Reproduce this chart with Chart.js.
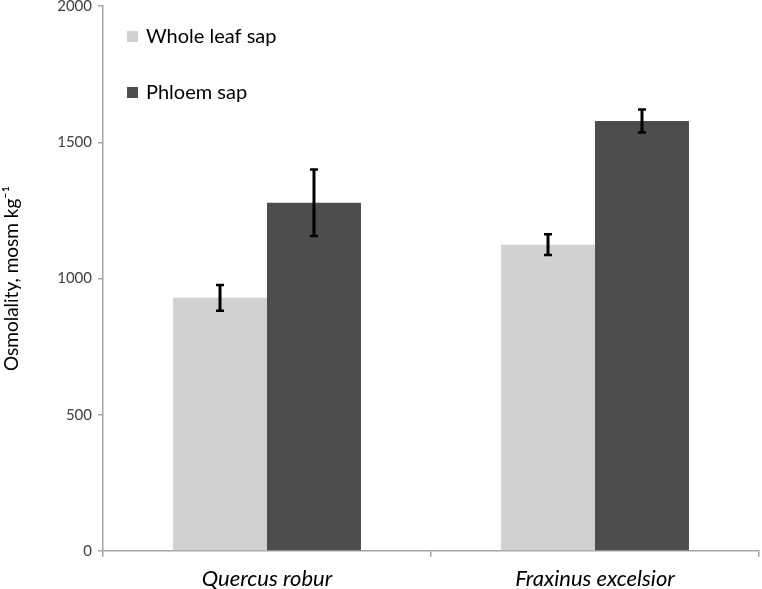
<!DOCTYPE html>
<html>
<head>
<meta charset="utf-8">
<script src="https://cdn.jsdelivr.net/npm/chart.js@4"></script>
<style>
  html, body { margin: 0; padding: 0; background: #fff; }
  #wrap { width: 762px; height: 589px; }
</style>
</head>
<body>
<div id="wrap"><canvas id="osmoChart" width="762" height="589"></canvas></div>
<script>
// species on the x axis
const species = ["Quercus robur", "Fraxinus excelsior"];

// osmolality, mosm kg-1
const wholeLeaf = [929, 1124];
const phloem = [1278, 1578];

// error bar half-heights
const wholeLeafErr = [47, 38];
const phloemErr = [122, 42];

const yTicks = [0, 500, 1000, 1500, 2000];

const FONT = "Lato, 'Open Sans', sans-serif";

// draws the error bars on top of every bar
const errorBars = {
    id: "errorBars",
    afterDatasetsDraw(chart) {
        const ctx = chart.ctx;
        const yScale = chart.scales.y;
        chart.data.datasets.forEach((ds, i) => {
            const meta = chart.getDatasetMeta(i);
            meta.data.forEach((bar, j) => {
                const v = ds.data[j];
                const e = ds.errors[j];
                const top = yScale.getPixelForValue(v + e);
                const bot = yScale.getPixelForValue(v - e);
                ctx.save();
                ctx.strokeStyle = "#000";
                ctx.lineWidth = 3;
                ctx.beginPath();
                ctx.moveTo(bar.x, top);
                ctx.lineTo(bar.x, bot);
                ctx.stroke();
                ctx.lineWidth = 2.5;
                ctx.beginPath();
                ctx.moveTo(bar.x - 4, top);
                ctx.lineTo(bar.x + 4, top);
                ctx.moveTo(bar.x - 4, bot);
                ctx.lineTo(bar.x + 4, bot);
                ctx.stroke();
                ctx.restore();
            });
        });
    }
};

// legend stacked inside the plot, top left
const innerLegend = {
    id: "innerLegend",
    afterDraw(chart) {
        const ctx = chart.ctx;
        const area = chart.chartArea;
        chart.data.datasets.forEach((ds, i) => {
            const x = area.left + 24;
            const y = area.top + 25 + i * 56;
            ctx.save();
            ctx.fillStyle = ds.backgroundColor;
            ctx.fillRect(x, y, 11, 11);
            ctx.fillStyle = "#000";
            ctx.font = "20px " + FONT;
            ctx.textBaseline = "middle";
            ctx.fillText(ds.label, x + 19, y + 6);
            ctx.restore();
        });
    }
};

new Chart(document.getElementById("osmoChart"), {
    type: "bar",
    data: {
        labels: species,
        datasets: [
            {
                label: "Whole leaf sap",
                data: wholeLeaf,
                errors: wholeLeafErr,
                backgroundColor: "#D0D1D3"
            },
            {
                label: "Phloem sap",
                data: phloem,
                errors: phloemErr,
                backgroundColor: "#4D4D4F"
            }
        ]
    },
    options: {
        responsive: false,
        animation: false,
        categoryPercentage: 0.573,
        barPercentage: 1,
        layout: { padding: { top: 6, right: 3, left: 0, bottom: 0 } },
        plugins: {
            legend: { display: false },
            tooltip: { enabled: false }
        },
        scales: {
            x: {
                grid: {
                    offset: true,
                    drawOnChartArea: false,
                    drawTicks: true,
                    tickLength: 6,
                    color: "#A6A6A6",
                    lineWidth: 1.5
                },
                border: { color: "#A6A6A6", width: 1.5 },
                ticks: {
                    color: "#000",
                    padding: 9,
                    font: { family: FONT, size: 22, style: "italic" }
                },
                afterFit(scale) {
                    scale.height = 38;
                    scale.paddingLeft = 0;
                    scale.paddingRight = 0;
                }
            },
            y: {
                min: 0,
                max: 2000,
                afterBuildTicks(scale) {
                    scale.ticks = yTicks.map(v => ({ value: v }));
                },
                grid: {
                    drawOnChartArea: false,
                    drawTicks: true,
                    tickLength: 5,
                    color: "#A6A6A6",
                    lineWidth: 1.5
                },
                border: { color: "#A6A6A6", width: 1.5 },
                ticks: {
                    color: "#404040",
                    padding: 6,
                    font: { family: FONT, size: 15 },
                    callback: v => String(v)
                },
                title: {
                    display: true,
                    text: "Osmolality, mosm kg\u207B\u00B9",
                    color: "#000",
                    padding: { top: 0, bottom: 8 },
                    font: { family: FONT, size: 19 }
                },
                afterFit(scale) {
                    scale.width = 103;
                    scale.paddingTop = 0;
                    scale.paddingBottom = 0;
                }
            }
        }
    },
    plugins: [errorBars, innerLegend]
});
</script>
</body>
</html>
